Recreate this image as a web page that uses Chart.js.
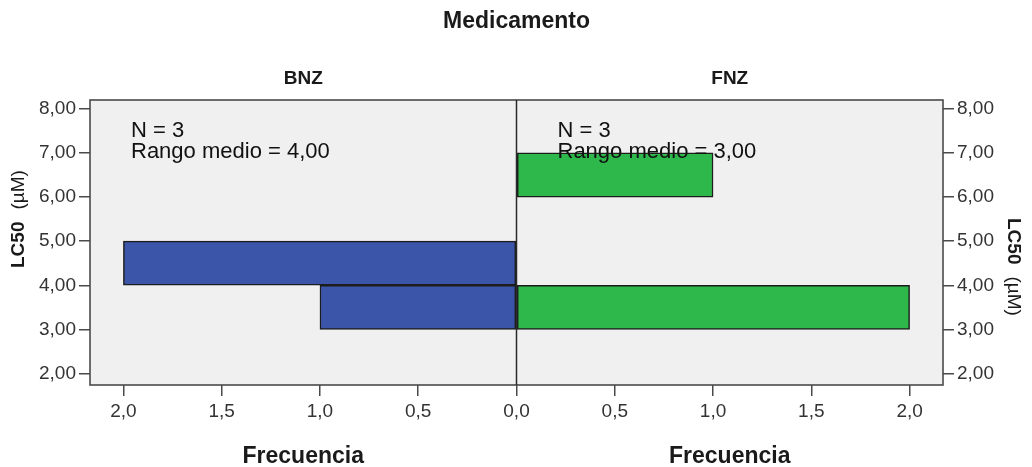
<!DOCTYPE html>
<html>
<head>
<meta charset="utf-8">
<script src="https://cdn.jsdelivr.net/npm/chart.js@4"></script>
<style>
  html, body { margin: 0; padding: 0; background: #ffffff; }
  #wrap { width: 1032px; height: 467px; position: relative; }
</style>
</head>
<body>
<div id="wrap"><canvas id="chart"></canvas></div>
<script>
// LC50 histogram bins (µM) and frequencies per drug
const lc50Bins = [[3, 4], [4, 5], [6, 7]];
const bnzFrequency = [1, 2, 0];
const fnzFrequency = [2, 0, 1];

// Group labels and summary statistics
const groups = ['BNZ', 'FNZ'];
const groupN = [3, 3];
const meanRank = [4.00, 3.00];

// Axis ticks
const lc50Ticks = [2, 3, 4, 5, 6, 7, 8];
const freqTicks = [-2, -1.5, -1, -0.5, 0, 0.5, 1, 1.5, 2];

const FONT = '"Liberation Sans", Arial, sans-serif';
Chart.defaults.font.family = FONT;

const fmtComma = (v, d) => v.toFixed(d).replace('.', ',');

// BNZ bars grow to the left (negative side), FNZ to the right
function barsFor(freqs, sign) {
  const out = [];
  freqs.forEach((f, i) => {
    if (f > 0) out.push({ y: (lc50Bins[i][0] + lc50Bins[i][1]) / 2, x: sign * f });
  });
  return out;
}

const panelText = {
  id: 'panelText',
  beforeDraw(chart) {
    const { ctx, chartArea: a } = chart;
    ctx.save();
    ctx.fillStyle = '#f0f0f0';
    ctx.fillRect(a.left, a.top, a.right - a.left, a.bottom - a.top);
    ctx.restore();
  },
  afterDatasetsDraw(chart) {
    const { ctx, chartArea: a, scales } = chart;
    const x0 = scales.x.getPixelForValue(0);
    ctx.save();
    // frame
    ctx.strokeStyle = '#4a4a4a';
    ctx.lineWidth = 1.6;
    ctx.strokeRect(a.left, a.top, a.right - a.left, a.bottom - a.top);
    // divider between panels
    ctx.strokeStyle = '#2a2a2a';
    ctx.lineWidth = 1.5;
    ctx.beginPath();
    ctx.moveTo(x0, a.top);
    ctx.lineTo(x0, a.bottom);
    ctx.stroke();

    const centers = [(a.left + x0) / 2, (x0 + a.right) / 2];
    const starts = [a.left + 41, x0 + 41];

    ctx.fillStyle = '#1a1a1a';
    ctx.textAlign = 'center';
    ctx.textBaseline = 'middle';
    ctx.font = 'bold 23px ' + FONT;
    ctx.fillText('Medicamento', (a.left + a.right) / 2, 22);

    groups.forEach((g, i) => {
      ctx.font = 'bold 19px ' + FONT;
      ctx.fillStyle = '#1a1a1a';
      ctx.textAlign = 'center';
      ctx.textBaseline = 'middle';
      ctx.fillText(g, centers[i], 79);
      ctx.font = 'bold 23px ' + FONT;
      ctx.fillText('Frecuencia', centers[i], 457);

      ctx.font = '22px ' + FONT;
      ctx.fillStyle = '#111111';
      ctx.textAlign = 'left';
      ctx.textBaseline = 'alphabetic';
      ctx.fillText('N = ' + groupN[i], starts[i], 137);
      ctx.fillText('Rango medio = ' + fmtComma(meanRank[i], 2), starts[i], 158);
    });

    // vertical axis titles
    const drawAxisTitle = (x, y, angle) => {
      ctx.save();
      ctx.translate(x, y);
      ctx.rotate(angle);
      ctx.textAlign = 'left';
      ctx.textBaseline = 'middle';
      ctx.fillStyle = '#1a1a1a';
      ctx.font = 'bold 19px ' + FONT;
      ctx.fillText('LC50', 0, 0);
      const w = ctx.measureText('LC50').width;
      ctx.font = '19px ' + FONT;
      ctx.fillText('(µM)', w + 12, 0);
      ctx.restore();
    };
    drawAxisTitle(19, 268, -Math.PI / 2);
    drawAxisTitle(1013, 218, Math.PI / 2);
    ctx.restore();
  }
};

const yAxis = (position, width) => ({
  type: 'linear',
  position,
  min: 1.74,
  max: 8.2,
  offset: false,
  afterBuildTicks: (axis) => { axis.ticks = lc50Ticks.map(v => ({ value: v })); },
  afterFit: (axis) => { axis.width = width; },
  grid: { offset: false, color: 'transparent', tickColor: '#4a4a4a', tickLength: 11, lineWidth: 1.5 },
  border: { display: false },
  ticks: {
    color: '#333333',
    padding: 3,
    font: { size: 19 },
    callback: (v) => fmtComma(v, 2)
  }
});

new Chart(document.getElementById('chart'), {
  type: 'bar',
  data: {
    datasets: [
      {
        label: groups[0],
        data: barsFor(bnzFrequency, -1),
        backgroundColor: '#3b56a9',
        borderColor: '#1c1c1c',
        borderWidth: 1.5,
        borderSkipped: false,
        grouped: false,
        barPercentage: 1,
        categoryPercentage: 1,
        yAxisID: 'y'
      },
      {
        label: groups[1],
        data: barsFor(fnzFrequency, 1),
        backgroundColor: '#2eb74b',
        borderColor: '#1c1c1c',
        borderWidth: 1.5,
        borderSkipped: false,
        grouped: false,
        barPercentage: 1,
        categoryPercentage: 1,
        yAxisID: 'y'
      }
    ]
  },
  options: {
    indexAxis: 'y',
    responsive: true,
    maintainAspectRatio: false,
    animation: false,
    layout: { padding: { top: 100, left: 0, right: 0, bottom: 0 } },
    plugins: { legend: { display: false }, tooltip: { enabled: false } },
    scales: {
      x: {
        type: 'linear',
        min: -2.17,
        max: 2.17,
        afterBuildTicks: (axis) => { axis.ticks = freqTicks.map(v => ({ value: v })); },
        afterFit: (axis) => { axis.height = 82; },
        grid: { color: 'transparent', tickColor: '#4a4a4a', tickLength: 11, lineWidth: 1.5 },
        border: { display: false },
        ticks: {
          color: '#333333',
          padding: 4,
          maxRotation: 0,
          font: { size: 19 },
          callback: (v) => fmtComma(Math.abs(v), 1)
        }
      },
      y: yAxis('left', 90),
      y2: yAxis('right', 89)
    }
  },
  plugins: [panelText]
});
</script>
</body>
</html>
